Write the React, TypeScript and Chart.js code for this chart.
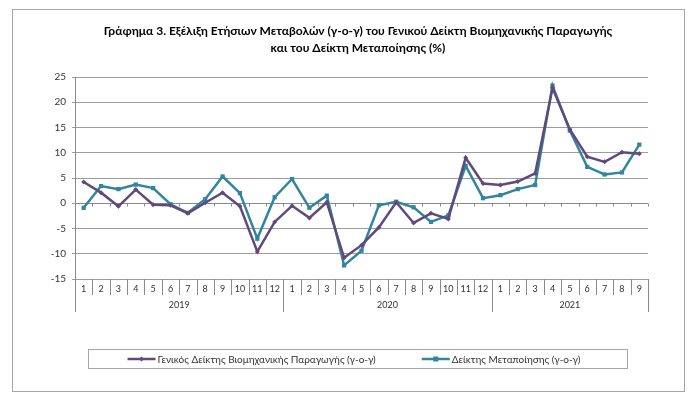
import React, { useEffect, useRef } from "react";
import { Chart, registerables } from "chart.js";

Chart.register(...registerables);

const titleLines = [
  "Γράφημα 3. Εξέλιξη Ετήσιων Μεταβολών (γ-ο-γ) του Γενικού Δείκτη Βιομηχανικής Παραγωγής",
  "και του Δείκτη Μεταποίησης (%)",
];
const years = ["2019", "2020", "2021"];
const monthsPerYear = [12, 12, 9];
const monthLabels = [
  "1", "2", "3", "4", "5", "6", "7", "8", "9", "10", "11", "12",
  "1", "2", "3", "4", "5", "6", "7", "8", "9", "10", "11", "12",
  "1", "2", "3", "4", "5", "6", "7", "8", "9",
];
const seriesNames = [
  "Γενικός Δείκτης Βιομηχανικής Παραγωγής (γ-ο-γ)",
  "Δείκτης Μεταποίησης (γ-ο-γ)",
];
const generalIndex = [
  4.2, 2.1, -0.6, 2.7, -0.3, -0.4, -2.0, 0.1, 2.1, -0.6, -9.6, -3.7,
  -0.5, -2.9, 0.2, -10.8, -8.3, -4.8, 0.2, -3.9, -2.0, -3.1, 9.0, 3.9,
  3.6, 4.3, 5.9, 22.8, 14.6, 9.2, 8.2, 10.1, 9.8,
];
const manufacturingIndex = [
  -0.9, 3.4, 2.8, 3.7, 3.0, -0.2, -1.9, 0.8, 5.3, 2.0, -7.0, 1.2,
  4.8, -0.9, 1.5, -12.3, -9.4, -0.4, 0.3, -0.8, -3.7, -2.4, 7.4, 1.0,
  1.6, 2.8, 3.6, 23.3, 14.4, 7.2, 5.7, 6.1, 11.6,
];
const yMin = -15;
const yMax = 25;
const yStep = 5;

const FONT = "Lato, 'Open Sans', sans-serif";
const PURPLE = "#604A7B";
const TEAL = "#31859C";
const GRID = "#9c9c9c";

const decorPlugin = {
  id: "decor",
  beforeDatasetsDraw(chart: any) {
    const { ctx, chartArea, scales } = chart;
    const xs = scales.x;
    const y0 = Math.round(scales.y.getPixelForValue(0)) + 0.5;
    const n = monthLabels.length;
    const boundary = (k: number) => {
      if (k === 0) return chartArea.left;
      if (k === n) return chartArea.right;
      return (xs.getPixelForValue(k - 1) + xs.getPixelForValue(k)) / 2;
    };
    ctx.save();
    ctx.strokeStyle = "#8a8a8a";
    ctx.lineWidth = 1;
    ctx.beginPath();
    ctx.moveTo(chartArea.left, y0);
    ctx.lineTo(chartArea.right, y0);
    for (let k = 0; k <= n; k++) {
      const bx = Math.round(boundary(k)) + 0.5;
      ctx.moveTo(bx, y0);
      ctx.lineTo(bx, y0 + 3);
    }
    ctx.stroke();
    ctx.restore();
  },
  afterDraw(chart: any) {
    const { ctx, chartArea, scales } = chart;
    const xs = scales.x;
    const n = monthLabels.length;
    const boundary = (k: number) => {
      if (k === 0) return chartArea.left;
      if (k === n) return chartArea.right;
      return (xs.getPixelForValue(k - 1) + xs.getPixelForValue(k)) / 2;
    };
    const bottom = chartArea.bottom;
    ctx.save();
    // category dividers
    const yearEdges = [0];
    monthsPerYear.forEach((m, i) => yearEdges.push(yearEdges[i] + m));
    ctx.strokeStyle = "#8a8a8a";
    ctx.lineWidth = 1;
    ctx.beginPath();
    for (let k = 0; k <= n; k++) {
      const bx = Math.round(boundary(k)) + 0.5;
      const isYear = yearEdges.includes(k);
      ctx.moveTo(bx, bottom);
      ctx.lineTo(bx, bottom + (isYear ? 33 : 16));
    }
    ctx.stroke();
    // year labels
    ctx.fillStyle = "#333";
    ctx.font = `9px ${FONT}`;
    ctx.textAlign = "center";
    ctx.textBaseline = "middle";
    years.forEach((yr, i) => {
      const a = boundary(yearEdges[i]);
      const b = boundary(yearEdges[i + 1]);
      ctx.fillText(yr, (a + b) / 2, bottom + 26);
    });
    // frame
    ctx.strokeStyle = "#a6a6a6";
    ctx.strokeRect(12.5, 9.5, 672, 382);
    // title
    ctx.fillStyle = "#000";
    ctx.font = `bold 12px ${FONT}`;
    ctx.fillText(titleLines[0], 358, 31);
    ctx.fillText(titleLines[1], 358, 48);
    // legend
    const lgTop = 349.5;
    const lgH = 19;
    ctx.strokeStyle = "#a6a6a6";
    ctx.strokeRect(88.5, lgTop, 539, lgH);
    ctx.font = `10px ${FONT}`;
    ctx.textAlign = "left";
    const sample = 28;
    const gap = 46;
    const ds = chart.data.datasets;
    const widths = ds.map((d: any) => sample + 2 + ctx.measureText(d.label).width);
    const total = widths.reduce((s: number, w: number) => s + w, 0) + gap * (ds.length - 1);
    let cx = 354 - total / 2;
    const ly = lgTop + lgH / 2;
    ds.forEach((d: any, i: number) => {
      ctx.strokeStyle = d.borderColor;
      ctx.lineWidth = 2.5;
      ctx.beginPath();
      ctx.moveTo(cx, ly);
      ctx.lineTo(cx + sample, ly);
      ctx.stroke();
      ctx.fillStyle = d.borderColor;
      const mx = cx + sample / 2;
      if (d.pointStyle === "rect") {
        ctx.fillRect(mx - 2.5, ly - 2.5, 5, 5);
      } else {
        ctx.beginPath();
        ctx.moveTo(mx, ly - 2.5);
        ctx.lineTo(mx + 2.5, ly);
        ctx.lineTo(mx, ly + 2.5);
        ctx.lineTo(mx - 2.5, ly);
        ctx.closePath();
        ctx.fill();
      }
      ctx.fillStyle = "#333";
      ctx.fillText(d.label, cx + sample + 2, ly + 0.5);
      cx += widths[i] + gap;
    });
    ctx.restore();
  },
};

export default function App() {
  const ref = useRef<HTMLCanvasElement | null>(null);
  useEffect(() => {
    document.body.style.margin = "0";
    const canvas = ref.current;
    if (!canvas) return;
    const chart = new Chart(canvas, {
      type: "line",
      data: {
        labels: monthLabels,
        datasets: [
          {
            label: seriesNames[0],
            data: generalIndex,
            borderColor: PURPLE,
            backgroundColor: PURPLE,
            borderWidth: 2.5,
            pointStyle: "rectRot",
            pointRadius: 2.5,
            pointBorderWidth: 0,
            tension: 0,
          },
          {
            label: seriesNames[1],
            data: manufacturingIndex,
            borderColor: TEAL,
            backgroundColor: TEAL,
            borderWidth: 2.5,
            pointStyle: "rect",
            pointRadius: 3,
            pointBorderWidth: 0,
            tension: 0,
          },
        ],
      },
      options: {
        responsive: false,
        animation: false,
        layout: { padding: { left: 40, right: 52, top: 77, bottom: 90 } },
        plugins: {
          legend: { display: false },
          title: { display: false },
          tooltip: { enabled: false },
        },
        scales: {
          x: {
            type: "category",
            offset: true,
            grid: { display: false, drawTicks: false },
            border: { display: false },
            ticks: {
              font: { family: FONT, size: 9 },
              color: "#333",
              padding: 5,
              maxRotation: 0,
              autoSkip: false,
            },
            afterFit: (s: any) => {
              s.height = 30;
            },
          },
          y: {
            min: yMin,
            max: yMax,
            grid: { color: GRID, lineWidth: 1, tickLength: 3, drawTicks: true },
            border: { display: true, color: "#8a8a8a" },
            ticks: {
              stepSize: yStep,
              font: { family: FONT, size: 10 },
              color: "#333",
              padding: 6,
            },
            afterFit: (s: any) => {
              s.width = 35;
            },
          },
        },
      },
      plugins: [decorPlugin],
    });
    return () => chart.destroy();
  }, []);
  return (
    <div style={{ width: 700, height: 399, background: "#fff" }}>
      <canvas ref={ref} width={700} height={399} style={{ display: "block" }} />
    </div>
  );
}
